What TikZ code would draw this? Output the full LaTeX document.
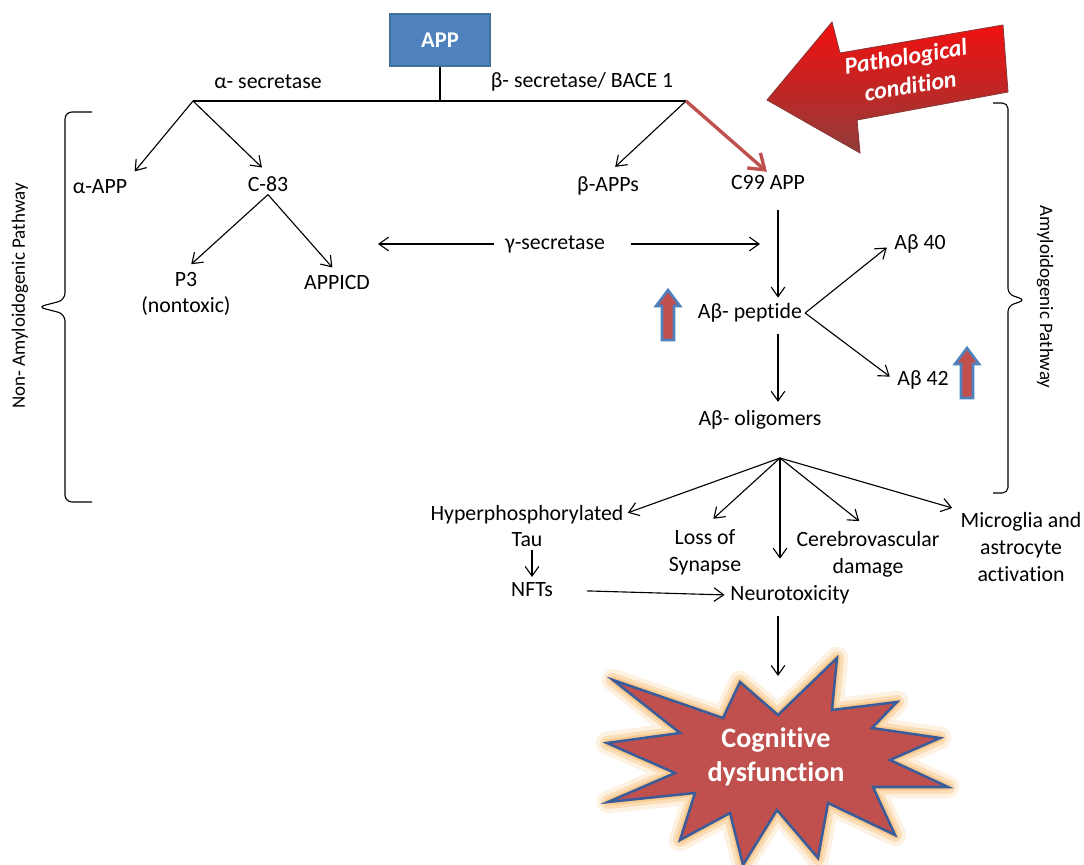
\documentclass[tikz,border=0pt]{standalone}
\usepackage{fontspec}
\setmainfont{Carlito}[RawFeature={-liga;-calt;-clig;-dlig}]
\usetikzlibrary{arrows.meta}
\definecolor{appblue}{HTML}{4F81BD}
\definecolor{appedge}{HTML}{41719C}
\definecolor{pathred}{HTML}{C0504D}
\definecolor{staredge}{HTML}{3A5C9A}
\definecolor{glow}{HTML}{F9C98C}
\tikzset{
  lbl/.style={font=\fontsize{15.5}{19}\selectfont, inner sep=2pt, align=center},
  conn/.style={-{Straight Barb[length=2.4mm,width=3.4mm]}, line width=0.8pt},
  redconn/.style={-{Straight Barb[length=3.6mm,width=5mm]}, line width=2.4pt, pathred},
  sidelbl/.style={font=\fontsize{13.5}{16}\selectfont, inner sep=0pt},
  uparr/.pic={\draw[appblue, fill=pathred, line width=1.8pt, line join=miter]
    (-6,0) -- (-6,-34) -- (-12,-34) -- (0,-50) -- (12,-34) -- (6,-34) -- (6,0) -- cycle;}
}
\begin{document}
\begin{tikzpicture}[x=0.025cm, y=-0.025cm]
  \useasboundingbox (0,0) rectangle (1084,865);

  % pathological condition arrow
  \shade[top color=red!80!pathred, bottom color=pathred!75!black, draw=pathred!70!black, line width=0.6pt]
    (767,100) -- (832,22) -- (840,53) -- (1003,25) -- (1008,92) -- (857,120) -- (860,153) -- cycle;
  \node[font=\fontsize{17}{21}\selectfont\bfseries\itshape, text=white, rotate=9, align=center] (patho) at (908,71) {Pathological\\condition};

  % APP and the two secretases
  \node[fill=appblue, draw=appedge, line width=1pt, minimum width=2.5cm, minimum height=1.3cm,
        text=white, font=\fontsize{16}{18}\selectfont\bfseries] (app) at (440,40) {APP};
  \coordinate (asplit) at (193,101);
  \coordinate (bsplit) at (686,101);
  \draw[line width=0.8pt] (asplit) -- (bsplit);
  \draw[line width=0.8pt] (app.south) -- (app.south |- asplit);
  \node[lbl] (asec) at (268,82) {α- secretase};
  \node[lbl] (bsec) at (582,82) {β- secretase/ BACE 1};

  % non-amyloidogenic side
  \node[lbl] (aapp) at (100,187) {α-APP};
  \node[lbl] (c83) at (268,184) {C-83};
  \node[lbl] (p3) at (186,294) {P3\\(nontoxic)};
  \node[lbl] (appicd) at (337,283) {APPICD};
  \draw[conn, shorten >=5pt] (asplit) -- (aapp.north east);
  \draw[conn, shorten >=6pt] (asplit) -- (c83.north);
  \draw[conn, shorten >=5pt] (c83.south) -- (p3.north);
  \draw[conn, shorten >=5pt] (c83.south) -- (appicd.north);

  % amyloidogenic side
  \coordinate (spine) at (778,0);
  \node[lbl] (bapps) at (608,186) {β-APPs};
  \node[lbl] (c99) at (768,183) {C99 APP};
  \draw[conn, shorten >=7pt] (bsplit) -- (bapps.north);
  \draw[redconn, shorten >=1pt] (bsplit) -- (c99.north);

  \node[lbl] (gsec) at (555,244) {γ-secretase};
  \coordinate (gleft) at (378,244);
  \coordinate (gright) at (760,244);
  \draw[conn, shorten <=6pt] (gsec.west) -- (gleft);
  \draw[conn, shorten <=16pt] (gsec.east) -- (gright);

  \node[lbl] (apep) at (750,313) {Aβ- peptide};
  \node[lbl] (ab40) at (920,244) {Aβ 40};
  \node[lbl] (ab42) at (923,380) {Aβ 42};
  \draw[conn, shorten <=12pt, shorten >=2pt] (c99.south -| spine) -- (apep.north -| spine);
  \draw[conn, shorten >=4pt] (apep.east) -- (ab40.west);
  \draw[conn, shorten >=4pt] (apep.east) -- (ab42.west);
  \pic at (668,340) {uparr};
  \pic at (967,398) {uparr};

  \node[lbl] (olig) at (760,420) {Aβ- oligomers};
  \draw[conn, shorten <=6pt, shorten >=4pt] (apep.south -| spine) -- (olig.north -| spine);

  % consequences
  \coordinate (hub) at (780,458);
  \node[lbl, anchor=north] (hyper) at (527,502) {Hyperphosphorylated\\Tau};
  \node[lbl] (loss) at (705,552) {Loss of\\Synapse};
  \node[lbl] (cereb) at (868,554) {Cerebrovascular\\damage};
  \node[lbl] (micro) at (1021,547) {Microglia and\\astrocyte\\activation};
  \node[lbl] (nfts) at (532,590) {NFTs};
  \node[lbl] (neuro) at (790,595) {Neurotoxicity};
  \draw[conn, shorten >=1pt] (hub) -- ([yshift=-8pt]hyper.north east);
  \draw[conn, shorten >=8pt] (hub) -- (loss.north);
  \draw[conn, shorten >=17pt] (hub) -- (hub |- neuro.north);
  \draw[conn, shorten >=8pt] (hub) -- (cereb.north);
  \draw[conn, shorten >=4pt] (hub) -- (micro.north west);
  \draw[conn, shorten >=2pt] (hyper.south -| nfts) -- (nfts.north);
  \draw[conn, shorten <=22pt, shorten >=2pt] (nfts.east) -- (neuro.west);

  % cognitive dysfunction burst
  \coordinate (burst top) at (778,676);
  \foreach \w/\op in {16pt/0.25, 10pt/0.5, 5pt/0.9}{
    \draw[glow, line width=\w, line join=round, opacity=\op]
      (613,680) -- (723,718) -- (740,682) -- (778,715) -- (837,658) -- (832,710) -- (897,702) -- (872,728)
      -- (940,738) -- (890,760) -- (948,787) -- (873,787) -- (895,835) -- (828,803) -- (818,858) -- (777,810)
      -- (743,865) -- (730,813) -- (680,840) -- (695,793) -- (608,802) -- (675,773) -- (607,743) -- (680,733) -- cycle;
  }
  \draw[staredge, fill=pathred, line width=1.8pt, line join=miter]
    (613,680) -- (723,718) -- (740,682) -- (778,715) -- (837,658) -- (832,710) -- (897,702) -- (872,728)
    -- (940,738) -- (890,760) -- (948,787) -- (873,787) -- (895,835) -- (828,803) -- (818,858) -- (777,810)
    -- (743,865) -- (730,813) -- (680,840) -- (695,793) -- (608,802) -- (675,773) -- (607,743) -- (680,733) -- cycle;
  \node[text=white, font=\fontsize{20}{24}\selectfont\bfseries, align=center] (cog) at (776,757) {Cognitive\\dysfunction};
  \draw[conn, shorten <=6pt] (neuro.south -| spine) -- (burst top);

  % pathway braces
  \draw[line width=0.8pt, rounded corners=5pt]
    (92,112) -- (65,112) -- (65,300) -- (38,307) -- (65,314) -- (65,502) -- (92,502);
  \draw[line width=0.8pt, rounded corners=4pt]
    (993,103) -- (1008,103) -- (1008,294) -- (1025,300) -- (1008,306) -- (1008,493) -- (993,493);
  \node[sidelbl, rotate=90] (nonamy) at (20,296) {Non- Amyloidogenic Pathway};
  \node[sidelbl, rotate=-90] (amy) at (1045,297) {Amyloidogenic Pathway};
\end{tikzpicture}
\end{document}
